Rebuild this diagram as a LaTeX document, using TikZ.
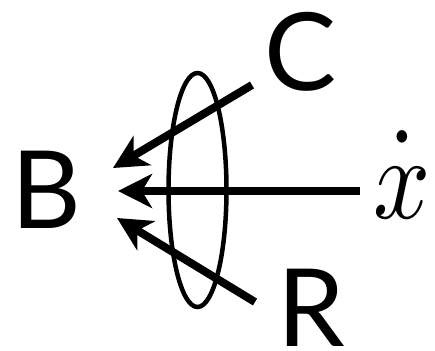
\documentclass[tikz,border=0pt]{standalone}
\usepackage{fontspec}
\setmainfont{Lato}
\usetikzlibrary{arrows.meta}
\tikzset{
  lbl/.style={inner sep=0pt, anchor=base, font=\fontsize{108}{110}\selectfont},
  arr/.style={line width=8pt, -{Stealth[length=34pt, width=34pt, inset=10pt]}},
  ring/.style={line width=4.5pt}
}
\begin{document}
\begin{tikzpicture}[x=1pt, y=-1pt]
\useasboundingbox (0,0) rectangle (435,350);
\node[lbl] (B) at (46,228) {B};
\node[lbl] (C) at (301,91) {C};
\node[lbl] (R) at (311,346) {R};
\node[inner sep=0pt, anchor=base] (X) at (402,218) {\scalebox{10}[11.8]{$\dot{\vrule height 5.05pt width 0pt x}$}};
\coordinate (cs) at (252,85);
\coordinate (ct) at (113,168);
\coordinate (xs) at (360,191);
\coordinate (xt) at (118,191);
\coordinate (rs) at (255,302);
\coordinate (rt) at (117,218);
\draw[ring] (197.5,190) ellipse [x radius=29, y radius=117];
\draw[arr] (cs) -- (ct);
\draw[arr] (xs) -- (xt);
\draw[arr] (rs) -- (rt);
\end{tikzpicture}
\end{document}
